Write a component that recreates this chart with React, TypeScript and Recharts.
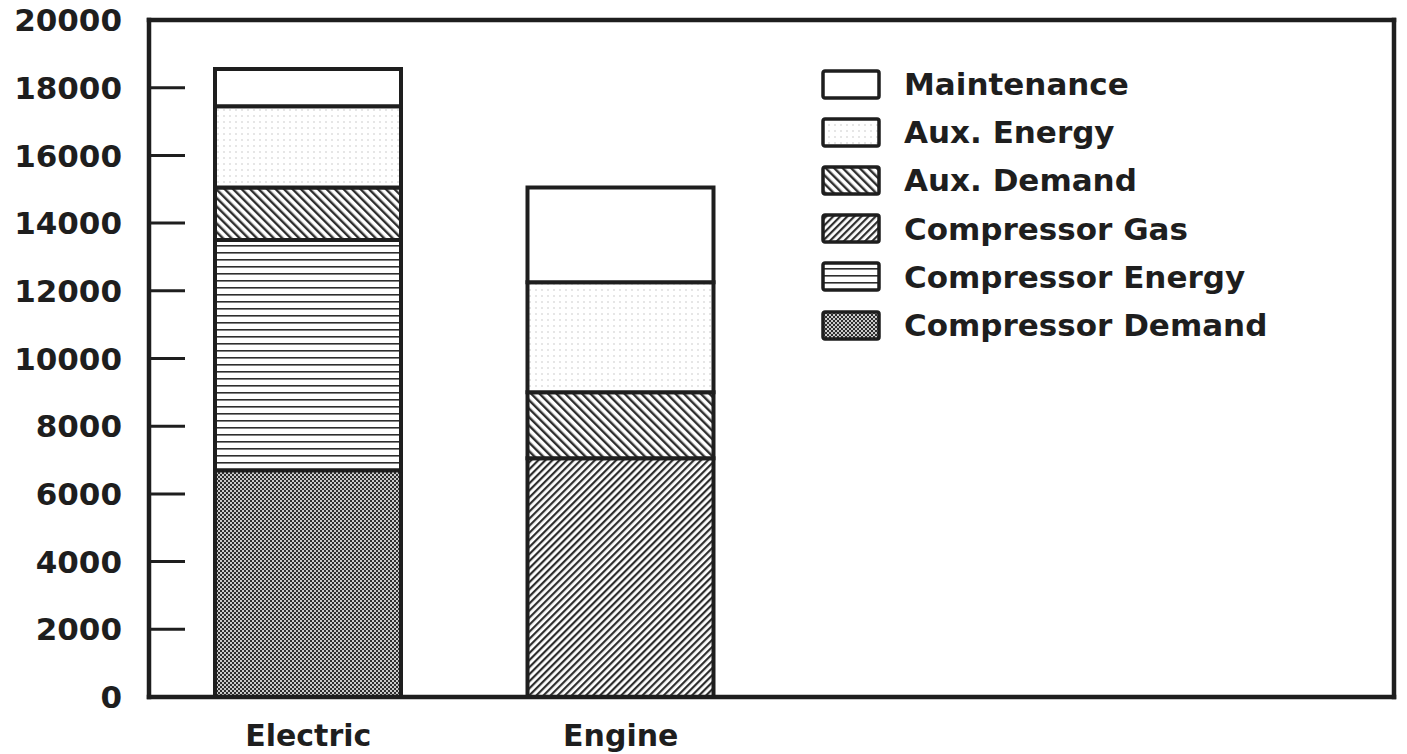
import { Bar, BarChart, Legend, XAxis, YAxis } from "recharts";

const categories = ["Electric", "Engine"];
const compressorDemand = [6700, 0];
const compressorEnergy = [6800, 0];
const compressorGas = [0, 7050];
const auxDemand = [1550, 1950];
const auxEnergy = [2400, 3250];
const maintenance = [1100, 2800];
const yTicks = [0, 2000, 4000, 6000, 8000, 10000, 12000, 14000, 16000, 18000, 20000];

const INK = "#1e1e1e";
const FONT = "'DejaVu Sans', Verdana, sans-serif";
const FRAME = { stroke: INK, strokeWidth: 4.5, strokeLinecap: "square" as const };

// bottom to top
const series = [
  { key: "compressorDemand", name: "Compressor Demand", fill: "url(#pat-cd)" },
  { key: "compressorEnergy", name: "Compressor Energy", fill: "url(#pat-ce)" },
  { key: "compressorGas", name: "Compressor Gas", fill: "url(#pat-cg)" },
  { key: "auxDemand", name: "Aux. Demand", fill: "url(#pat-ad)" },
  { key: "auxEnergy", name: "Aux. Energy", fill: "url(#pat-ae)" },
  { key: "maintenance", name: "Maintenance", fill: "#fff" },
];

const data = categories.map((name, i) => ({
  name,
  compressorDemand: compressorDemand[i],
  compressorEnergy: compressorEnergy[i],
  compressorGas: compressorGas[i],
  auxDemand: auxDemand[i],
  auxEnergy: auxEnergy[i],
  maintenance: maintenance[i],
}));

const TICK_GAP = 27;
const TICK_LEN = 36;

function YTick(props: any) {
  const { x, y, payload } = props;
  return (
    <g>
      <line
        x1={x + TICK_GAP}
        x2={x + TICK_GAP + TICK_LEN}
        y1={y}
        y2={y}
        stroke={INK}
        strokeWidth={3}
      />
      <text
        x={x}
        y={y}
        dy="0.36em"
        textAnchor="end"
        fill={INK}
        fontFamily={FONT}
        fontWeight="bold"
        fontSize={31}
      >
        {payload.value}
      </text>
    </g>
  );
}

function LegendBox() {
  return (
    <div style={{ fontFamily: FONT, fontWeight: "bold", fontSize: 31, color: INK }}>
      {[...series].reverse().map((s) => (
        <div key={s.key} style={{ display: "flex", alignItems: "center", height: 48.2 }}>
          <svg width={60} height={31} style={{ display: "block" }}>
            <rect x={2} y={2} width={56} height={27} fill={s.fill} stroke={INK} strokeWidth={3.5} rx={2} />
          </svg>
          <span style={{ marginLeft: 23, whiteSpace: "nowrap" }}>{s.name}</span>
        </div>
      ))}
    </div>
  );
}

export default function App() {
  return (
    <div style={{ position: "absolute", left: 0, top: 0, background: "#fff" }}>
      <BarChart
        width={1407}
        height={754}
        data={data}
        margin={{ top: 19, right: 12, left: 0, bottom: 0 }}
      >
        <defs>
          <pattern id="pat-cd" width={4} height={4} patternUnits="userSpaceOnUse">
            <rect width={4} height={4} fill="#2e2e2e" />
            <circle cx={1} cy={1} r={1} fill="#fff" />
            <circle cx={3} cy={3} r={1} fill="#fff" />
          </pattern>
          <pattern id="pat-ce" width={8} height={7} patternUnits="userSpaceOnUse">
            <rect width={8} height={7} fill="#fff" />
            <rect width={8} height={1.6} fill="#2e2e2e" />
          </pattern>
          <pattern id="pat-cg" width={5} height={5} patternUnits="userSpaceOnUse" patternTransform="rotate(45)">
            <rect width={5} height={5} fill="#fff" />
            <rect width={2.2} height={5} fill="#2e2e2e" />
          </pattern>
          <pattern id="pat-ad" width={6} height={6} patternUnits="userSpaceOnUse" patternTransform="rotate(-45)">
            <rect width={6} height={6} fill="#fff" />
            <rect width={2.4} height={6} fill="#2e2e2e" />
          </pattern>
          <pattern id="pat-ae" width={6} height={6} patternUnits="userSpaceOnUse">
            <rect width={6} height={6} fill="#fff" />
            <circle cx={2} cy={2} r={0.8} fill="#c8c8c8" />
          </pattern>
        </defs>
        <XAxis
          dataKey="name"
          height={57}
          padding={{ left: 3, right: 617 }}
          axisLine={FRAME}
          tickLine={false}
          tickMargin={22}
          tick={{ fill: INK, fontFamily: FONT, fontWeight: "bold", fontSize: 30 }}
        />
        <XAxis xAxisId="top" dataKey="name" orientation="top" height={1} axisLine={FRAME} tick={false} tickLine={false} />
        <YAxis
          width={149}
          domain={[0, 20000]}
          ticks={yTicks}
          interval={0}
          axisLine={FRAME}
          tickLine={false}
          tickSize={0}
          tickMargin={TICK_GAP}
          tick={<YTick />}
        />
        <YAxis yAxisId="right" orientation="right" width={1} domain={[0, 20000]} axisLine={FRAME} tick={false} tickLine={false} />
        {series.map((s) => (
          <Bar
            key={s.key}
            dataKey={s.key}
            name={s.name}
            stackId="cost"
            fill={s.fill}
            stroke={INK}
            strokeWidth={4}
            barSize={186}
            isAnimationActive={false}
          />
        ))}
        <Legend
          layout="vertical"
          align="center"
          verticalAlign="middle"
          content={() => <LegendBox />}
          wrapperStyle={{ position: "absolute", top: 60, left: 821, width: "auto", height: "auto" }}
        />
      </BarChart>
    </div>
  );
}
